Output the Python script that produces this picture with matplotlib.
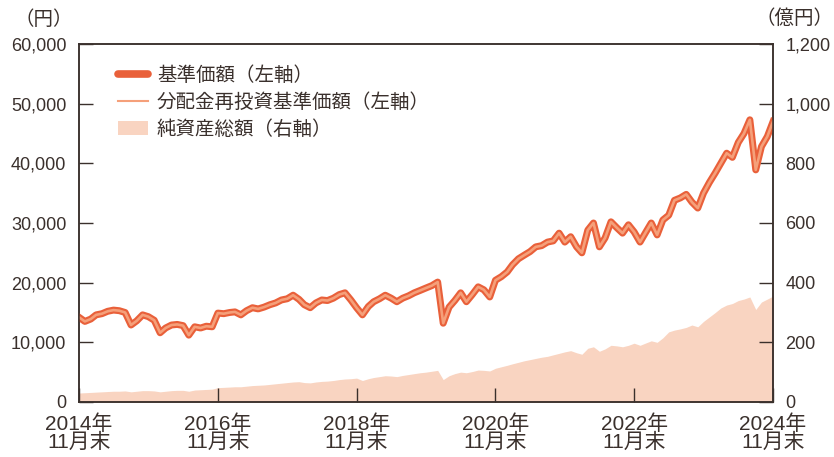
import matplotlib
matplotlib.use("Agg")
import matplotlib.pyplot as plt
from matplotlib.lines import Line2D
from matplotlib.patches import Patch
import numpy as np
import pandas as pd

# monthly values, 2014/11 .. 2024/11
months = pd.date_range("2014-11-30", periods=121, freq="ME")

nav = [
    14200, 13500, 13900, 14600, 14800, 15200, 15400, 15300, 15000, 12900,
    13600, 14600, 14300, 13700, 11600, 12400, 12900, 13000, 12800, 11200,
    12600, 12400, 12700, 12600, 14900, 14800, 15000, 15100, 14600, 15300,
    15800, 15600, 15900, 16300, 16600, 17100, 17300, 17900, 17200, 16300,
    15800, 16600, 17100, 17000, 17400, 18000, 18300, 17100, 15800, 14600,
    16000, 16800, 17300, 17900, 17400, 16800, 17400, 17800, 18300, 18700,
    19100, 19500, 20100, 13200, 15900, 17000, 18300, 16800, 18000, 19300,
    18800, 17600, 20400, 21000, 21800, 23000, 24000, 24600, 25200, 26000,
    26200, 26800, 27000, 28300, 26800, 27700, 26000, 25000, 28800, 30000,
    26000, 27500, 30200, 29200, 28300, 29700, 28500, 26800, 28500, 30000,
    28000, 30500, 31300, 33800, 34200, 34800, 33500, 32500, 35000, 36800,
    38400, 40000, 41700, 41000, 43500, 45000, 47300, 38900, 42800, 44500,
    47000,
]
nav_reinvest = list(nav)  # no distributions -> same as nav

assets = [
    30, 31, 32, 33, 34, 35, 36, 36, 37, 34,
    36, 38, 38, 37, 34, 36, 38, 39, 39, 36,
    40, 41, 42, 43, 48, 49, 50, 51, 51, 53,
    55, 56, 57, 59, 61, 63, 65, 67, 68, 65,
    64, 67, 69, 70, 72, 75, 77, 78, 80, 72,
    78, 82, 85, 88, 87, 85, 89, 92, 95, 98,
    100, 103, 106, 75, 88, 95, 100, 98, 102, 107,
    106, 104, 113, 118, 123, 128, 133, 138, 142, 146,
    150, 153, 158, 163, 168, 172, 165, 160, 180, 185,
    170, 178, 190, 188, 185, 190, 197, 190, 198, 205,
    200, 215, 235, 241, 245, 250, 258, 252, 270, 285,
    300, 315, 325, 330, 340, 345, 352, 310, 335, 345,
    355,
]

tick_dates = pd.to_datetime(["2014-11-30", "2016-11-30", "2018-11-30",
                             "2020-11-30", "2022-11-30", "2024-11-30"])
tick_labels = ["2014年\n11月末", "2016年\n11月末", "2018年\n11月末",
               "2020年\n11月末", "2022年\n11月末", "2024年\n11月末"]

DARK = "#E9603A"
LIGHT = "#F5A07A"
FILL = "#F9D4C1"
INK = "#3a302c"
CJK = ["Noto Sans CJK JP", "DejaVu Sans"]

plt.rcParams["font.family"] = ["Liberation Sans", "Noto Sans CJK JP"]

fig = plt.figure(figsize=(8.34, 4.57), dpi=100)
ax = fig.add_axes([0.0947, 0.1204, 0.8322, 0.7833])
ax2 = ax.twinx()
ax.set_zorder(ax2.get_zorder() + 1)
ax.patch.set_visible(False)

ax2.fill_between(months, assets, 0, color=FILL, lw=0)
ax.plot(months, nav, color=DARK, lw=5, solid_joinstyle="round")
ax.plot(months, nav_reinvest, color=LIGHT, lw=1.9, solid_joinstyle="round")

ax.set_xlim(months[0], months[-1])
ax.set_ylim(0, 60000)
ax2.set_ylim(0, 1200)
ax.set_yticks(np.arange(0, 60001, 10000))
ax.set_yticklabels([f"{v:,}" for v in range(0, 60001, 10000)])
ax2.set_yticks(np.arange(0, 1201, 200))
ax2.set_yticklabels([f"{v:,}" for v in range(0, 1201, 200)])
ax.set_xticks(tick_dates)
ax.set_xticklabels(tick_labels, linespacing=0.88)

for a in (ax, ax2):
    for s in a.spines.values():
        s.set_color(INK)
        s.set_linewidth(1.1)
ax.tick_params(axis="y", direction="in", length=10, width=1, color=INK,
               labelsize=13, pad=9, labelcolor=INK)
ax2.tick_params(axis="y", direction="in", length=10, width=1, color=INK,
                labelsize=13, pad=9, labelcolor=INK)
ax.tick_params(axis="x", direction="in", length=10, width=1, color=INK,
               labelsize=15, pad=9, labelcolor=INK)

fig.text(0.053, 0.958, "（円）", fontsize=14, color=INK, ha="center",
         va="center", family=CJK)
fig.text(0.953, 0.960, "（億円）", fontsize=14, color=INK, ha="center",
         va="center", family=CJK)

handles = [
    Line2D([], [], color=DARK, lw=5.5, solid_capstyle="round"),
    Line2D([], [], color=LIGHT, lw=1.5),
    Patch(facecolor=FILL, edgecolor="none"),
]
labels = ["基準価額（左軸）", "分配金再投資基準価額（左軸）", "純資産総額（右軸）"]
ax.legend(handles, labels, loc="upper left", bbox_to_anchor=(0.045, 0.963),
          frameon=False, prop={"family": CJK, "size": 14}, handlelength=1.55,
          handletextpad=0.45, labelspacing=0.3, borderaxespad=0,
          labelcolor=INK)

fig.savefig("out.png", dpi=100)
